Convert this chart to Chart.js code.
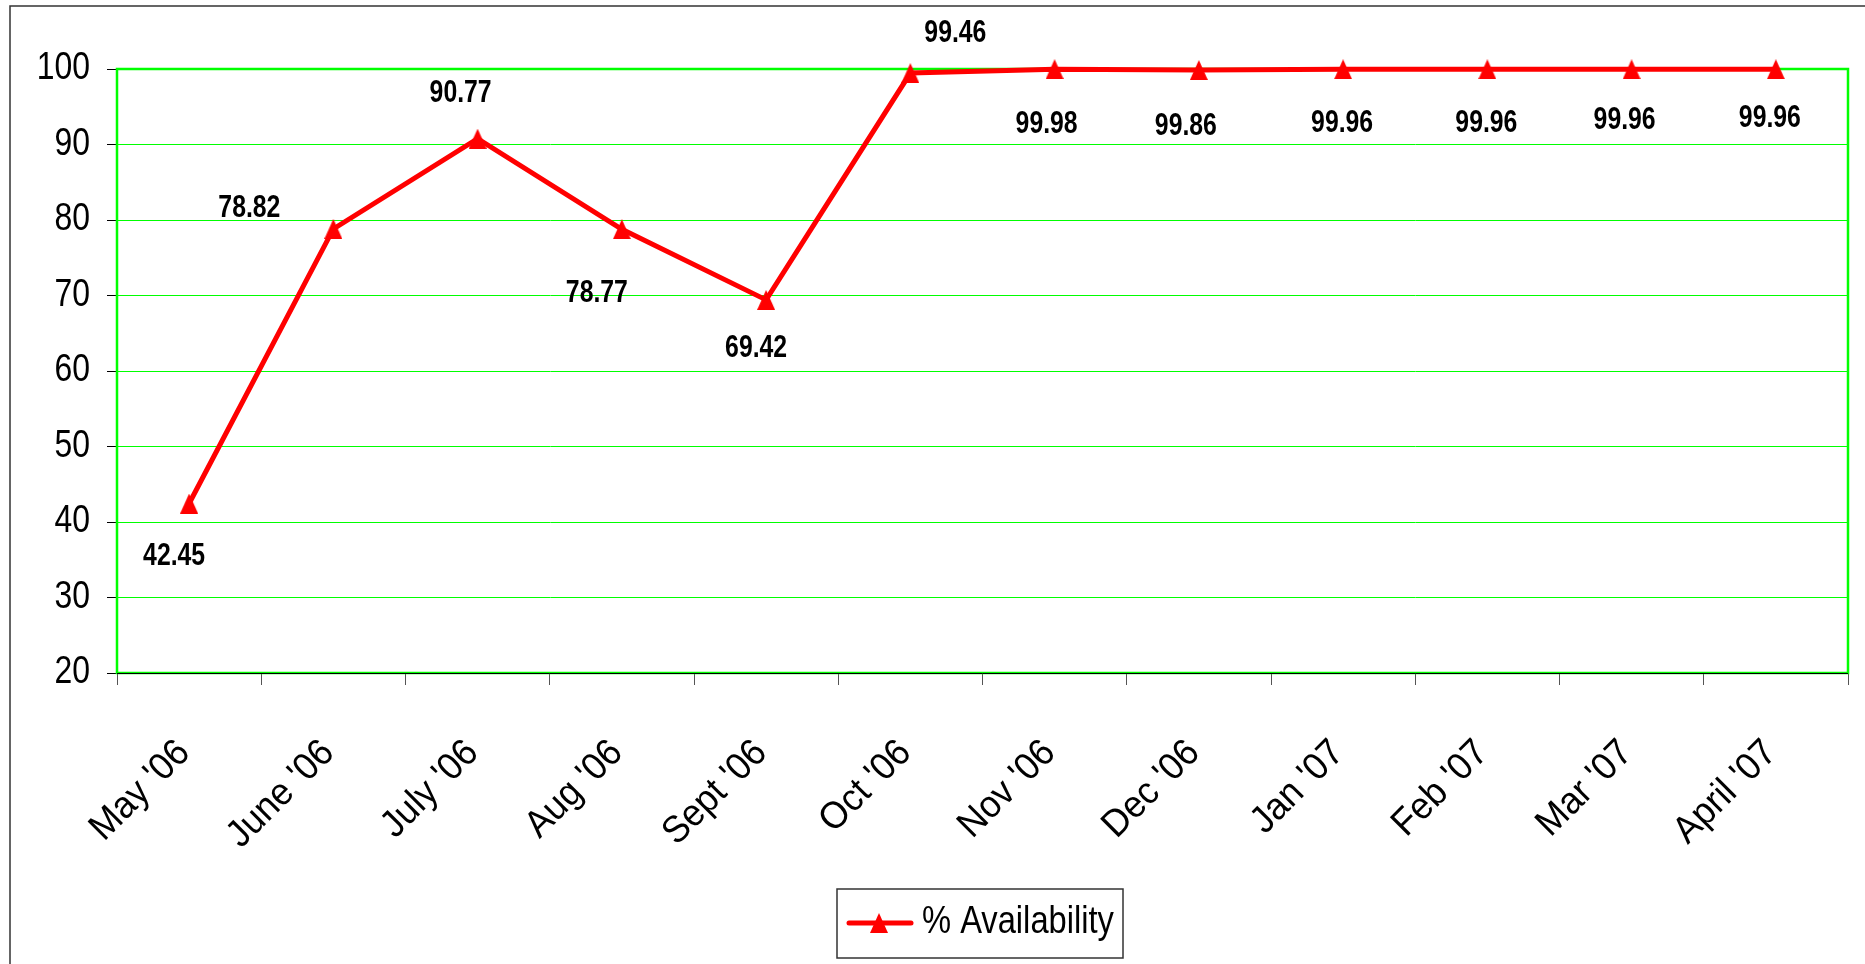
<!DOCTYPE html>
<html>
<head>
<meta charset="utf-8">
<script src="https://cdn.jsdelivr.net/npm/chart.js@4/dist/chart.umd.min.js"></script>
<style>
  html, body { margin: 0; padding: 0; background: #ffffff; }
  #wrap { width: 1865px; height: 964px; position: relative; }
</style>
</head>
<body>
<div id="wrap"><canvas id="chart" width="1865" height="964"></canvas></div>
<script>
// Monthly availability, May 2006 - April 2007
const months = ["May '06", "June '06", "July '06", "Aug '06", "Sept '06", "Oct '06",
                "Nov '06", "Dec '06", "Jan '07", "Feb '07", "Mar '07", "April '07"];
const availability = [42.45, 78.82, 90.77, 78.77, 69.42, 99.46, 99.98, 99.86, 99.96, 99.96, 99.96, 99.96];
const seriesName = "% Availability";
const yTicks = { min: 20, max: 100, step: 10 };

const FONT = "'Liberation Sans', Arial, sans-serif";
const RED = '#ff0000';
const GREEN = '#00ff00';

// Value label placement around each marker (pixel offsets from the point)
const labelOffsets = [
  [-15, 53], [-84, -20], [-17, -45], [-25, 64], [-10, 49], [45, -40],
  [-8, 55], [-13, 56], [-1, 54], [-1, 54], [-7, 51], [-6, 49]
];

// Condensed text: draw with a horizontal squeeze
function narrowText(ctx, text, x, y, opts) {
  ctx.save();
  ctx.translate(x, y);
  if (opts.rotate) ctx.rotate(opts.rotate);
  ctx.scale(opts.sx, 1);
  ctx.font = opts.font;
  ctx.fillStyle = opts.color || '#000000';
  ctx.textAlign = opts.align || 'center';
  ctx.textBaseline = 'middle';
  ctx.fillText(text, 0, 0);
  ctx.restore();
}

// Triangle marker
function makeTriangle(w, h) {
  const c = document.createElement('canvas');
  c.width = w; c.height = h;
  const g = c.getContext('2d');
  g.fillStyle = RED;
  g.beginPath();
  g.moveTo(w / 2, 0);
  g.lineTo(w, h);
  g.lineTo(0, h);
  g.closePath();
  g.fill();
  return c;
}
const triangle = makeTriangle(18, 20);

// Outer frame and plot-area frame
const framePlugin = {
  id: 'frame',
  beforeDraw(chart) {
    const ctx = chart.ctx;
    ctx.save();
    ctx.fillStyle = '#ffffff';
    ctx.fillRect(0, 0, chart.width, chart.height);
    ctx.strokeStyle = '#333333';
    ctx.lineWidth = 1.5;
    ctx.beginPath();
    ctx.moveTo(10, chart.height + 5);
    ctx.lineTo(10, 6);
    ctx.lineTo(chart.width + 5, 6);
    ctx.stroke();
    ctx.restore();
  },
  beforeDatasetsDraw(chart) {
    const { ctx, chartArea: a } = chart;
    ctx.save();
    ctx.strokeStyle = GREEN;
    ctx.lineWidth = 2.5;
    ctx.strokeRect(a.left, a.top, a.right - a.left, a.bottom - a.top);
    ctx.strokeStyle = '#000000';
    ctx.lineWidth = 1;
    ctx.beginPath();
    ctx.moveTo(a.left, a.bottom + 0.5);
    ctx.lineTo(a.right, a.bottom + 0.5);
    ctx.stroke();
    ctx.restore();
  }
};

// Axis tick labels in the condensed face
const axisLabels = {
  id: 'axisLabels',
  afterDraw(chart) {
    const ctx = chart.ctx;
    const ys = chart.scales.y;
    ys.ticks.forEach(t => {
      narrowText(ctx, String(t.value), ys.right - 10 - 17, ys.getPixelForValue(t.value),
        { sx: 0.84, font: '38px ' + FONT, align: 'right' });
    });
    const xs = chart.scales.x;
    xs.getLabels().forEach((lab, i) => {
      narrowText(ctx, lab, xs.getPixelForValue(i) - 5, xs.top + 74,
        { sx: 0.94, font: '38px ' + FONT, align: 'right', rotate: -Math.PI / 4 });
    });
  }
};

// Value labels next to each point
const valueLabels = {
  id: 'valueLabels',
  afterDatasetsDraw(chart) {
    const ctx = chart.ctx;
    const meta = chart.getDatasetMeta(0);
    meta.data.forEach((pt, i) => {
      const v = chart.data.datasets[0].data[i];
      const off = labelOffsets[i];
      narrowText(ctx, v.toFixed(2), pt.x + off[0], pt.y + off[1],
        { sx: 0.8, font: 'bold 31px ' + FONT, align: 'center' });
    });
  }
};

// Boxed legend under the axis
const boxLegend = {
  id: 'boxLegend',
  afterDraw(chart) {
    const ctx = chart.ctx;
    const ds = chart.data.datasets[0];
    ctx.save();
    ctx.strokeStyle = '#333333';
    ctx.lineWidth = 1.5;
    ctx.strokeRect(837, 889, 286, 69);
    ctx.strokeStyle = ds.borderColor;
    ctx.lineWidth = 5;
    ctx.lineCap = 'round';
    ctx.beginPath();
    ctx.moveTo(849, 923);
    ctx.lineTo(911, 923);
    ctx.stroke();
    ctx.drawImage(triangle, 879 - 9, 923 - 10);
    ctx.restore();
    narrowText(ctx, ds.label, 922, 923, { sx: 0.86, font: '38px ' + FONT, align: 'left' });
  }
};

new Chart(document.getElementById('chart'), {
  type: 'line',
  data: {
    labels: months,
    datasets: [{
      label: seriesName,
      data: availability,
      borderColor: RED,
      backgroundColor: RED,
      borderWidth: 5,
      tension: 0,
      pointStyle: triangle,
      pointRadius: 10,
      clip: false
    }]
  },
  options: {
    responsive: false,
    animation: false,
    devicePixelRatio: 1,
    layout: { padding: { left: 0, top: 69, right: 17, bottom: 0 } },
    plugins: { legend: { display: false }, tooltip: { enabled: false } },
    scales: {
      x: {
        offset: true,
        grid: { offset: true, drawOnChartArea: false, drawTicks: true, tickLength: 12, tickColor: '#555555', lineWidth: 1 },
        border: { display: false },
        ticks: { display: false, autoSkip: false },
        afterFit(scale) { scale.height = 291; }
      },
      y: {
        min: yTicks.min,
        max: yTicks.max,
        ticks: { display: false, stepSize: yTicks.step },
        grid: { color: GREEN, lineWidth: 1, tickColor: '#000000', tickLength: 10 },
        border: { color: GREEN, width: 2 },
        afterFit(scale) { scale.width = 117; }
      }
    }
  },
  plugins: [framePlugin, valueLabels, axisLabels, boxLegend]
});
</script>
</body>
</html>
